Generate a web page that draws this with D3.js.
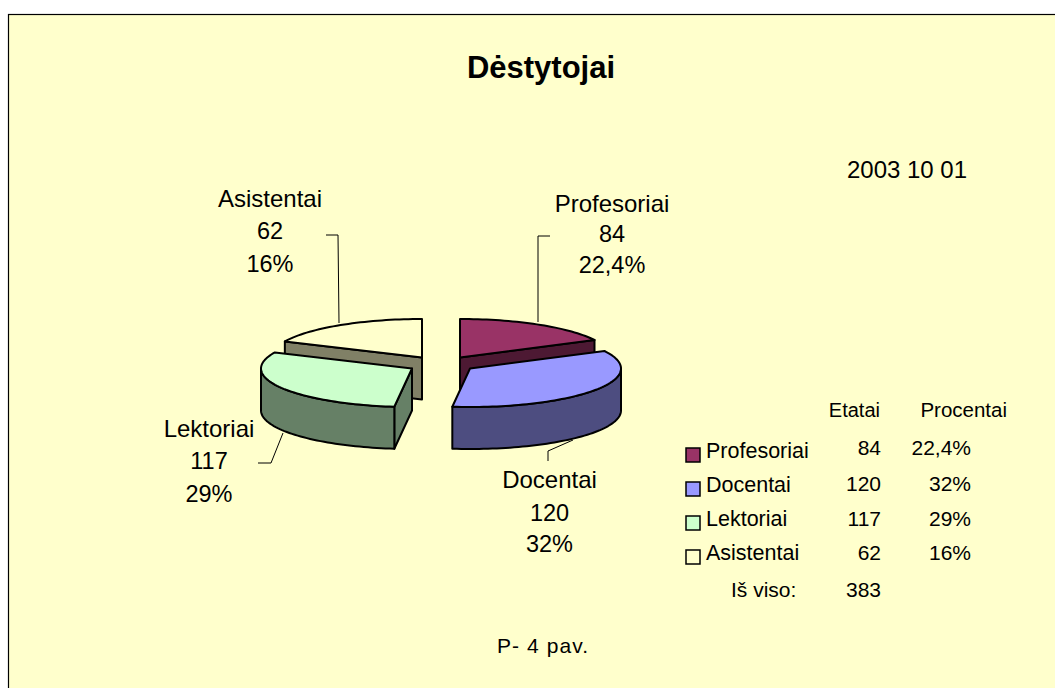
<!DOCTYPE html>
<html><head><meta charset="utf-8">
<script src="https://cdn.jsdelivr.net/npm/d3@7"></script>
<style>html,body{margin:0;padding:0;background:#fff;overflow:hidden}svg{display:block}text{font-family:"Liberation Sans",Arial,sans-serif;fill:#000}</style>
</head><body><svg id="c" width="1055" height="688"></svg>
<script>
const categories=["Profesoriai","Docentai","Lektoriai","Asistentai"];
const values=[84,120,117,62];
const percents=["22,4%","32%","29%","16%"];
const total=383;
const topColors=["#993366","#9999FF","#CCFFCC","#FFFFCC"];
const sideColors=["#4D1933","#4D4D80","#668066","#808066"];

const svg=d3.select("#c");
svg.append("rect").attr("x",8.5).attr("y",14.5).attr("width",1060).attr("height",690)
  .attr("fill","#FFFFCC").attr("stroke","#000").attr("stroke-width",1.2);

function txt(s,x,y,size,anchor,weight){
  return svg.append("text").attr("x",x).attr("y",y).attr("font-size",size)
    .attr("text-anchor",anchor||"start").attr("font-weight",weight||"normal").text(s);
}
txt("Dėstytojai",541,78,31,"middle","bold");
txt("2003 10 01",907,178,24,"middle");
txt("P- 4 pav.",542.5,653,21,"middle").attr("textLength",91);

// pie geometry
const pie=d3.pie().sort(null).value(d=>d).startAngle(0).endAngle(2*Math.PI)(values);
// the reference's 3-D view compresses the angles unevenly
const view=d3.scaleLinear().domain([0,79,192,302,360].map(d=>d*Math.PI/180))
  .range([0,63,187,295,360].map(d=>d*Math.PI/180));
const rx=151, ry=38.5, depth=42;
const centers=[[460,357.5],[470,368.5],[412,368.5],[422,357.5]];
const px=(c,a)=>c[0]+rx*Math.sin(a), py=(c,a)=>c[1]-ry*Math.cos(a);
const line=d3.line().curve(d3.curveLinear);
function arcPts(c,a0,a1,dy){
  const n=Math.max(2,Math.ceil(Math.abs(a1-a0)/0.03));
  return d3.range(n+1).map(i=>{const a=a0+(a1-a0)*i/n;return [px(c,a),py(c,a)+(dy||0)];});
}
const g=svg.append("g").attr("stroke","#000").attr("stroke-width",2).attr("stroke-linejoin","round");
function wall(i,a,fill){
  const c=centers[i];
  g.append("path").attr("fill",fill).attr("d",line([[c[0],c[1]],[px(c,a),py(c,a)],[px(c,a),py(c,a)+depth],[c[0],c[1]+depth]])+"Z");
}
function rim(i,a0,a1){
  const c=centers[i];
  g.append("path").attr("fill",sideColors[i]).attr("d",line(arcPts(c,a0,a1,0).concat(arcPts(c,a1,a0,depth)))+"Z");
}
function face(i,a0,a1){
  const c=centers[i];
  g.append("path").attr("fill",topColors[i]).attr("d",line([c].concat(arcPts(c,a0,a1,0)))+"Z");
}
const A=pie.map(p=>[view(p.startAngle),view(p.endAngle)]);
// back slices
wall(3,A[3][0],sideColors[3]); face(3,A[3][0],A[3][1]);
wall(0,A[0][1],sideColors[0]); face(0,A[0][0],A[0][1]);
// front slices
wall(2,A[2][0],sideColors[2]); rim(2,A[2][0],Math.min(A[2][1],1.5*Math.PI)); face(2,A[2][0],A[2][1]);
rim(1,Math.PI/2,A[1][1]); face(1,A[1][0],A[1][1]);

// leader lines
const leaders=[[[538,322],[538,236],[550,236]],[[573,440],[548,451],[548,461]],[[283,433],[271,463],[258,463]],[[339,323],[338,235],[326,235]]];
svg.append("g").selectAll("path").data(leaders).join("path")
  .attr("d",d=>line(d)).attr("fill","none").attr("stroke","#000").attr("stroke-width",1);

// data labels
const labelX=[612,549.5,209,270];
const labelY=[[212,242,273],[488,521,552],[437,469,502],[207,239,272]];
categories.forEach((c,i)=>{
  txt(c,labelX[i],labelY[i][0],24,"middle");
  txt(values[i],labelX[i],labelY[i][1],23.5,"middle");
  txt(percents[i],labelX[i],labelY[i][2],23.5,"middle");
});

// legend table
txt("Etatai",880,417,20,"end");
txt("Procentai",1007,417,20.5,"end");
const textY=[458,492,526,560], numY=[455,491,526,560];
categories.forEach((c,i)=>{
  svg.append("rect").attr("x",686).attr("y",textY[i]-10).attr("width",14).attr("height",14)
    .attr("fill",topColors[i]).attr("stroke","#000").attr("stroke-width",1.5);
  txt(c,706,textY[i],21.5,"start");
  txt(values[i],881,numY[i],21,"end");
  txt(percents[i],971,numY[i],21,"end");
});
txt("Iš viso:",731,597,21,"start");
txt(total,881,597,21,"end");
</script></body></html>
